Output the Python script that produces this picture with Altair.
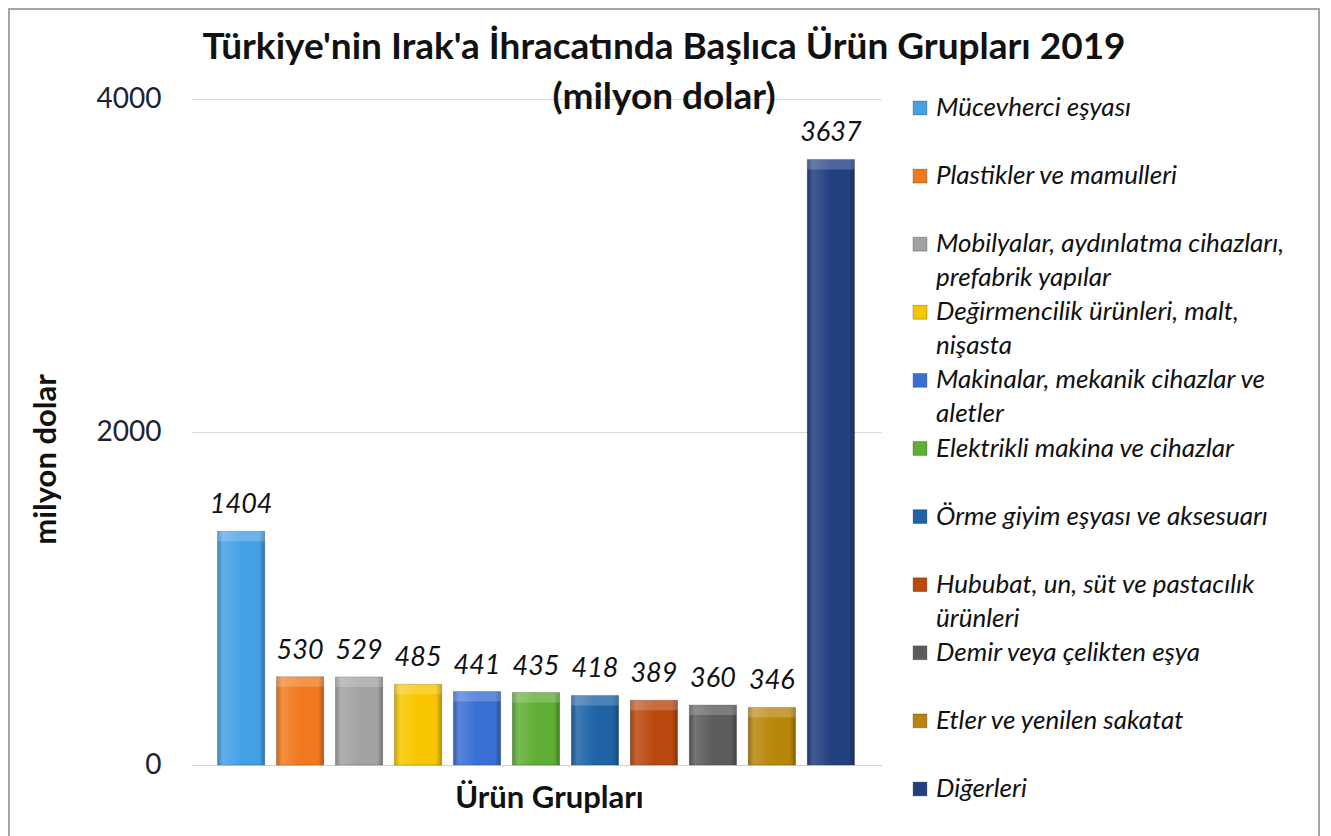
import altair as alt
import pandas as pd

categories = [
    "Mücevherci eşyası",
    "Plastikler ve mamulleri",
    "Mobilyalar, aydınlatma cihazları, prefabrik yapılar",
    "Değirmencilik ürünleri, malt, nişasta",
    "Makinalar, mekanik cihazlar ve aletler",
    "Elektrikli makina ve cihazlar",
    "Örme giyim eşyası ve aksesuarı",
    "Hububat, un, süt ve pastacılık ürünleri",
    "Demir veya çelikten eşya",
    "Etler ve yenilen sakatat",
    "Diğerleri",
]
legend_labels = [
    "Mücevherci eşyası",
    "Plastikler ve mamulleri",
    "Mobilyalar, aydınlatma cihazları,|prefabrik yapılar",
    "Değirmencilik ürünleri, malt,|nişasta",
    "Makinalar, mekanik cihazlar ve|aletler",
    "Elektrikli makina ve cihazlar",
    "Örme giyim eşyası ve aksesuarı",
    "Hububat, un, süt ve pastacılık|ürünleri",
    "Demir veya çelikten eşya",
    "Etler ve yenilen sakatat",
    "Diğerleri",
]
values = [1404, 530, 529, 485, 441, 435, 418, 389, 360, 346, 3637]
colors = ["#45A1E6", "#F27A1E", "#A3A3A3", "#F7C600", "#3A6FD3",
          "#5FAE35", "#1F63A6", "#B9490F", "#5C5C5C", "#B8860B", "#223F80"]

title_lines = ["Türkiye'nin Irak'a  İhracatında Başlıca Ürün Grupları 2019", "(milyon dolar)"]
y_title = "milyon dolar"
x_title = "Ürün Grupları"
y_ticks = [0, 2000, 4000]

df = pd.DataFrame({"cat": categories, "label": legend_labels, "value": values})

color_scale = alt.Scale(domain=categories, range=colors)
x_enc = alt.X("cat:N", sort=categories,
              scale=alt.Scale(paddingInner=0.2, paddingOuter=0.45),
              axis=alt.Axis(labels=False, ticks=False, domain=True, domainColor="#d0d0d0",
                            title=x_title, titleFont="Lato", titleFontSize=31,
                            titleFontWeight="bold", titleColor="#111", titlePadding=18,
                            titleX=358))
y_enc = alt.Y("value:Q", scale=alt.Scale(domain=[0, 4000], nice=False),
              axis=alt.Axis(values=y_ticks, format="d", ticks=False, domain=False, grid=True,
                            gridColor="#d9d9d9", labelFont="Lato", labelFontSize=28,
                            labelColor="#1a2333", labelPadding=30,
                            title=y_title, titleFont="Lato", titleFontSize=31,
                            titleFontWeight="bold", titleColor="#111",
                            titleX=-145, titleY=360, titleBaseline="middle", titleAngle=270))

base = alt.Chart(df)

frame = alt.Chart(alt.Data(values=[{}])).mark_rect(
    fill=None, stroke="#a6a6a6", strokeWidth=2
).encode(x=alt.value(-182), x2=alt.value(1128), y=alt.value(-90), y2=alt.value(745))

bars = base.mark_bar(stroke="#00000033", strokeWidth=1).encode(
    x=x_enc, y=y_enc,
    color=alt.Color("cat:N", scale=color_scale, legend=None),
)

shade = base.mark_bar(
    color={"gradient": "linear", "x1": 0, "x2": 1, "y1": 0, "y2": 0,
           "stops": [{"offset": 0, "color": "rgba(0,0,0,0.18)"},
                     {"offset": 0.12, "color": "rgba(255,255,255,0.15)"},
                     {"offset": 0.5, "color": "rgba(255,255,255,0.0)"},
                     {"offset": 0.88, "color": "rgba(0,0,0,0.0)"},
                     {"offset": 1, "color": "rgba(0,0,0,0.28)"}]}
).encode(x=alt.X("cat:N", sort=categories), y="value:Q")

top_bevel = base.mark_bar(color="white", opacity=0.2, y2Offset=10).encode(
    x=alt.X("cat:N", sort=categories), y="value:Q", y2="value:Q"
)

labels = base.mark_text(
    font="Lato", fontSize=27, fontStyle="italic", color="#111",
    baseline="alphabetic", dy=-18
).encode(x=alt.X("cat:N", sort=categories), y="value:Q", text="value:Q")

bar_panel = alt.layer(frame, bars, shade, top_bevel, labels).properties(width=690, height=666)

leg_y = alt.Y("cat:N", sort=categories,
              scale=alt.Scale(domain=categories, range=[9, 690], padding=0), axis=None)
leg_sq = base.mark_square(size=190, opacity=1, stroke="#00000044", strokeWidth=1).encode(
    y=leg_y, x=alt.value(14),
    color=alt.Color("cat:N", scale=color_scale, legend=None),
)
leg_txt = base.mark_text(
    font="Lato", fontSize=26, fontStyle="italic", color="#111",
    align="left", baseline="alphabetic", dy=8, lineBreak="|", lineHeight=34
).encode(y=leg_y, x=alt.value(30), text="label:N")

legend_panel = alt.layer(leg_sq, leg_txt).properties(width=400, height=666)

chart = alt.hconcat(bar_panel, legend_panel, spacing=25, bounds="flush").properties(
    title=alt.TitleParams(text=title_lines, font="Lato", fontSize=37, fontWeight="bold",
                          color="#111", lineHeight=50, anchor="middle", frame="bounds",
                          offset=-109),
    padding=0,
    background="white",
).configure_view(stroke=None, strokeWidth=0)

chart.save("out.html", embed_options={"renderer": "svg", "actions": False})
